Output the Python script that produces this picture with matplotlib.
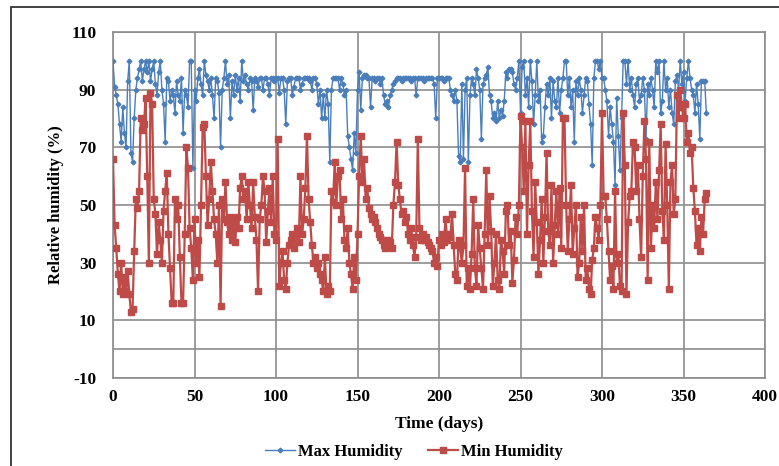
import matplotlib
matplotlib.use("Agg")
import matplotlib.pyplot as plt
import numpy as np
from matplotlib.patches import Rectangle

# Daily relative humidity over one year (%)
max_humidity = [
    100, 91, 88, 85, 78, 72, 84, 75, 70, 93,
    100, 68, 65, 80, 90, 94, 97, 100, 93, 97,
    100, 96, 100, 93, 97, 100, 92, 88, 96, 100,
    90, 85, 72, 94, 93, 86, 90, 88, 82, 93,
    88, 86, 94, 75, 90, 88, 84, 100, 100, 63,
    90, 86, 94, 97, 92, 88, 100, 95, 93, 90,
    94, 88, 80, 94, 93, 89, 70, 90, 94, 100,
    92, 95, 80, 93, 88, 95, 90, 94, 86, 100,
    93, 95, 92, 90, 94, 93, 83, 94, 93, 91,
    94, 94, 90, 94, 94, 92, 88, 94, 94, 93,
    94, 94, 89, 94, 94, 90, 78, 93, 94, 94,
    88, 91, 94, 94, 94, 90, 92, 94, 94, 94,
    94, 93, 90, 94, 94, 92, 85, 90, 80, 88,
    80, 90, 85, 65, 90, 94, 94, 94, 94, 90,
    94, 92, 88, 90, 74, 70, 66, 62, 75, 68,
    90, 96, 83, 94, 95, 95, 94, 94, 84, 94,
    94, 93, 94, 94, 92, 94, 88, 85, 86, 84,
    88, 90, 92, 93, 94, 94, 94, 93, 94, 94,
    94, 94, 94, 93, 94, 94, 88, 94, 94, 94,
    94, 93, 94, 94, 94, 94, 94, 92, 80, 94,
    94, 94, 94, 93, 94, 94, 94, 90, 88, 86,
    90, 86, 67, 65, 92, 66, 90, 94, 65, 88,
    94, 92, 88, 97, 94, 90, 73, 92, 94, 95,
    98, 88, 86, 80, 82, 79, 86, 80, 83, 81,
    86, 96, 94, 97, 97, 96, 92, 90, 94, 100,
    82, 98, 100, 88, 94, 84, 100, 93, 78, 88,
    100, 86, 90, 72, 74, 84, 92, 88, 94, 80,
    93, 86, 84, 94, 82, 90, 94, 100, 100, 88,
    94, 84, 90, 72, 93, 88, 94, 90, 82, 88,
    94, 93, 85, 78, 64, 94, 100, 100, 97, 100,
    94, 94, 90, 86, 74, 84, 78, 72, 57, 87,
    74, 62, 80, 100, 100, 92, 100, 90, 94, 88,
    84, 92, 94, 86, 88, 94, 90, 73, 92, 88,
    94, 90, 84, 100, 96, 100, 82, 86, 100, 90,
    94, 84, 90, 82, 78, 93, 95, 90, 100, 92,
    96, 86, 94, 100, 94, 90, 88, 82, 92, 85,
    73, 93, 93, 93, 82,
]

min_humidity = [
    66, 43, 35, 26, 20, 30, 19, 25, 20, 27,
    19, 13, 14, 34, 52, 49, 55, 80, 76, 78,
    87, 60, 30, 89, 85, 52, 47, 33, 44, 38,
    30, 48, 55, 61, 40, 28, 16, 16, 52, 45,
    50, 32, 16, 16, 40, 70, 63, 42, 35, 24,
    45, 30, 38, 25, 50, 77, 78, 60, 43, 52,
    65, 55, 45, 40, 30, 50, 15, 52, 45, 58,
    44, 40, 46, 38, 44, 37, 46, 42, 56, 60,
    52, 55, 45, 58, 50, 42, 58, 46, 38, 20,
    45, 50, 60, 55, 37, 48, 56, 44, 60, 40,
    38, 73, 22, 30, 34, 24, 21, 30, 36, 38,
    40, 35, 38, 42, 37, 60, 40, 45, 56, 74,
    52, 44, 36, 30, 32, 28, 30, 26, 24, 20,
    32, 19, 22, 20, 55, 51, 65, 50, 60, 62,
    45, 52, 38, 35, 42, 30, 26, 21, 32, 24,
    40, 60, 74, 58, 66, 52, 56, 49, 47, 45,
    46, 44, 42, 40, 39, 38, 36, 35, 38, 36,
    37, 35, 50, 58, 72, 57, 52, 47, 48, 44,
    46, 40, 38, 42, 36, 32, 39, 73, 42, 38,
    40, 38, 39, 37, 36, 35, 34, 30, 32, 29,
    38, 36, 40, 37, 45, 38, 40, 39, 47, 36,
    26, 24, 38, 35, 30, 36, 63, 22, 28, 21,
    33, 52, 28, 22, 43, 35, 28, 21, 40, 62,
    36, 53, 41, 22, 30, 40, 24, 21, 38, 34,
    26, 48, 50, 36, 41, 23, 31, 46, 40, 50,
    81, 70, 55, 79, 40, 64, 79, 48, 32, 58,
    44, 26, 38, 52, 30, 46, 68, 41, 36, 57,
    30, 43, 55, 40, 56, 35, 80, 80, 50, 34,
    45, 57, 33, 42, 50, 25, 30, 46, 34, 50,
    24, 28, 21, 19, 31, 35, 46, 42, 38, 50,
    82, 53, 53, 45, 34, 24, 29, 21, 55, 30,
    33, 22, 20, 82, 64, 19, 44, 53, 55, 72,
    70, 55, 64, 45, 32, 60, 79, 66, 24, 72,
    35, 50, 42, 58, 45, 62, 78, 48, 38, 71,
    50, 21, 58, 64, 47, 52, 88, 80, 90, 84,
    80, 85, 72, 75, 68, 70, 56, 48, 36, 42,
    34, 46, 40, 52, 54,
]

x_ticks = [0, 50, 100, 150, 200, 250, 300, 350, 400]
y_ticks = [-10, 10, 30, 50, 70, 90, 110]

days = np.arange(len(max_humidity))

plt.rcParams['font.family'] = ['Liberation Serif', 'DejaVu Serif']
plt.rcParams['font.weight'] = 'bold'
plt.rcParams['axes.unicode_minus'] = False

fig = plt.figure(figsize=(7.79, 4.66), dpi=100)
ax = fig.add_axes([113 / 779, 1 - 378 / 466, 652 / 779, 346 / 466])

grid_col = '#8c8c8c'
ax.set_xlim(0, 400)
ax.set_ylim(-10, 110)
ax.set_xticks(x_ticks)
ax.set_yticks(y_ticks)
ax.grid(True, color=grid_col, linewidth=1.2)
ax.set_axisbelow(True)
ax.axhline(0, color=grid_col, linewidth=1.2, zorder=1)
for s in ax.spines.values():
    s.set_color(grid_col)
    s.set_linewidth(1.2)
ax.tick_params(length=0, labelsize=12.5)
ax.tick_params(axis='y', pad=12)
ax.tick_params(axis='x', pad=8)

ax.plot(days, max_humidity, color='#4a7ebb', linewidth=1.0,
        marker='D', markersize=2.4, label='Max Humidity', zorder=3)
ax.plot(days, min_humidity, color='#be4b48', linewidth=1.6,
        marker='s', markersize=4, label='Min Humidity', zorder=4)

ax.set_xlabel('Time (days)', fontsize=12.5, fontweight='bold', labelpad=8)
ax.set_ylabel('Relative humidity (%)', fontsize=12, fontweight='bold', labelpad=5)

fig.legend(loc='center', bbox_to_anchor=(414 / 779, 1 - 452 / 466), ncol=2,
           frameon=False, handlelength=1.8, handletextpad=0.2,
           columnspacing=1.5, prop={'weight': 'bold', 'size': 12})

# chart border
fig.patches.append(Rectangle((11 / 779, -0.1), 1.2, 1.1 - 7 / 466,
                             transform=fig.transFigure, fill=False,
                             edgecolor='#333333', linewidth=1.3))

fig.savefig('out.png', dpi=100)
